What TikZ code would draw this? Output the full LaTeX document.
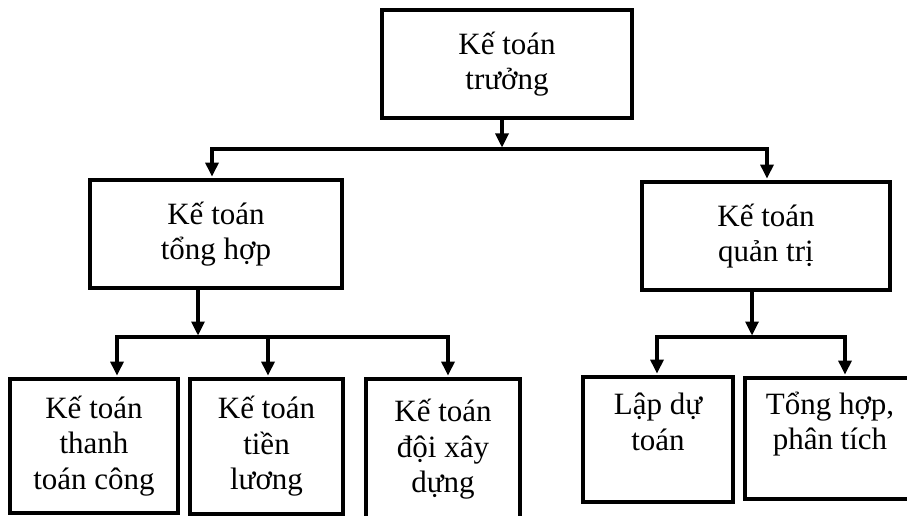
\documentclass[tikz,border=0pt]{standalone}
\usepackage{fontspec}
\setmainfont{Liberation Serif}
\usetikzlibrary{arrows.meta}
\begin{document}
\begin{tikzpicture}[x=1pt,y=-1pt,
  box/.style={draw, rectangle, line width=3.8pt, align=center, inner sep=0pt,
    font=\fontsize{31}{35.5}\selectfont},
  link/.style={line width=3.2pt},
  arr/.style={link, -{Triangle[width=13pt,length=14pt]}, shorten >=1.5pt},
]
\fill[white] (0,0) rectangle (907,516);
\useasboundingbox (0,0) rectangle (907,516);

% boxes
\node[box, minimum width=250pt, minimum height=108pt] (top)  at (507,64)    {Kế toán\\trưởng};
\node[box, minimum width=252pt, minimum height=108pt] (th)   at (216,234)   {Kế toán\\tổng hợp};
\node[box, minimum width=248pt, minimum height=108pt] (qt)   at (766,236)   {Kế toán\\quản trị};
\node[box, minimum width=168pt, minimum height=134pt] (ttc)  at (94,446)    {Kế toán\\thanh\\toán công};
\node[box, minimum width=153pt, minimum height=135pt] (tl)   at (266.5,446.5) {Kế toán\\tiền\\lương};
\node[box, minimum width=154pt, minimum height=141pt] (dxd)  at (443,449.5) {Kế toán\\đội xây\\dựng};
\node[box, minimum width=150pt, minimum height=125pt] (ldt)  at (658,439.5) {Lập dự\\toán\\\mbox{}};
\node[box, minimum width=170pt, minimum height=121pt] (thpt) at (830,438.5) {Tổng hợp,\\phân tích\\\mbox{}};

% level 1 -> level 2
\coordinate (j0) at (502,149);
\coordinate (jL) at (212,149);
\coordinate (jR) at (767,149);
\draw[arr] (j0 |- top.south) -- (j0);
\draw[arr] (jR) -- (jL) -- (jL |- th.north);
\draw[arr] (jL) -- (jR) -- (jR |- qt.north);

% tổng hợp -> its three sections
\coordinate (k0) at (198,337);
\coordinate (kL) at (117,337);
\coordinate (kM) at (268,337);
\coordinate (kR) at (448,337);
\draw[arr] (k0 |- th.south) -- (k0);
\draw[arr] (kR) -- (kL) -- (kL |- ttc.north);
\draw[arr] (kL) -- (kR) -- (kR |- dxd.north);
\draw[arr] (kM) -- (kM |- tl.north);

% quản trị -> its two sections
\coordinate (m0) at (752,337);
\coordinate (mL) at (657,337);
\coordinate (mR) at (845,337);
\draw[arr] (m0 |- qt.south) -- (m0);
\draw[arr] (mR) -- (mL) -- (mL |- ldt.north);
\draw[arr] (mL) -- (mR) -- (mR |- thpt.north);
\end{tikzpicture}
\end{document}
